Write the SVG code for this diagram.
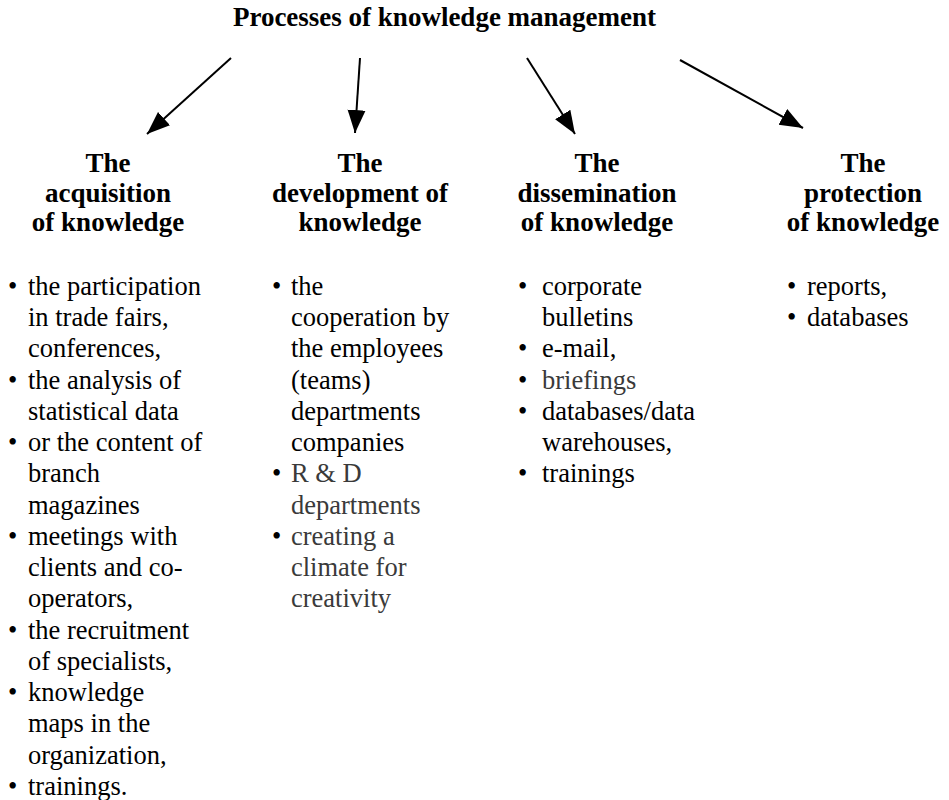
<svg xmlns="http://www.w3.org/2000/svg" width="949" height="800" viewBox="0 0 949 800">
<style>
text{font-family:"Liberation Serif","Times New Roman",serif;fill:#000}
.h{font-size:27px;font-weight:bold;text-anchor:middle}
.b{font-size:26.5px}
.g{fill:#3a3a3a}
.c line{stroke:#000;stroke-width:2}
</style>
<defs>
<marker id="ah" markerUnits="userSpaceOnUse" markerWidth="24" markerHeight="20" viewBox="0 0 24 20" refX="23" refY="10" orient="auto">
<path d="M0,1 L23,10 L0,19 Z" fill="#000"/>
</marker>
</defs>
<rect width="949" height="800" fill="#fff"/>
<g id="title"><text class="h" x="444.5" y="26">Processes of knowledge management</text></g>
<g class="c" id="connectors">
<line x1="231" y1="58" x2="147" y2="134" marker-end="url(#ah)"/>
<line x1="360" y1="58" x2="355" y2="133" marker-end="url(#ah)"/>
<line x1="527" y1="58" x2="575" y2="134" marker-end="url(#ah)"/>
<line x1="680" y1="60" x2="803" y2="128" marker-end="url(#ah)"/>
</g>
<g id="acquisition">
<text class="h" x="108" y="172">The</text>
<text class="h" x="108" y="202">acquisition</text>
<text class="h" x="108" y="231">of knowledge</text>
<g class="b">
<text x="8" y="295">•</text><text x="28" y="295">the participation</text>
<text x="28" y="326">in trade fairs,</text>
<text x="28" y="357">conferences,</text>
<text x="8" y="389">•</text><text x="28" y="389">the analysis of</text>
<text x="28" y="420">statistical data</text>
<text x="8" y="451">•</text><text x="28" y="451">or the content of</text>
<text x="28" y="482">branch</text>
<text x="28" y="514">magazines</text>
<text x="8" y="545">•</text><text x="28" y="545">meetings with</text>
<text x="28" y="576">clients and co-</text>
<text x="28" y="607">operators,</text>
<text x="8" y="639">•</text><text x="28" y="639">the recruitment</text>
<text x="28" y="670">of specialists,</text>
<text x="8" y="701">•</text><text x="28" y="701">knowledge</text>
<text x="28" y="732">maps in the</text>
<text x="28" y="764">organization,</text>
<text x="8" y="795">•</text><text x="28" y="795">trainings.</text>
</g>
</g>
<g id="development">
<text class="h" x="360" y="172">The</text>
<text class="h" x="360" y="202">development of</text>
<text class="h" x="360" y="231">knowledge</text>
<g class="b">
<text x="272" y="295">•</text><text x="291" y="295">the</text>
<text x="291" y="326">cooperation by</text>
<text x="291" y="357">the employees</text>
<text x="291" y="389">(teams)</text>
<text x="291" y="420">departments</text>
<text x="291" y="451">companies</text>
<text x="272" y="482">•</text><text class="g" x="291" y="482">R &amp; D</text>
<text class="g" x="291" y="514">departments</text>
<text x="272" y="545">•</text><text class="g" x="291" y="545">creating a</text>
<text class="g" x="291" y="576">climate for</text>
<text class="g" x="291" y="607">creativity</text>
</g>
</g>
<g id="dissemination">
<text class="h" x="597" y="172">The</text>
<text class="h" x="597" y="202">dissemination</text>
<text class="h" x="597" y="231">of knowledge</text>
<g class="b">
<text x="518" y="295">•</text><text x="542" y="295">corporate</text>
<text x="542" y="326">bulletins</text>
<text x="518" y="357">•</text><text x="542" y="357">e-mail,</text>
<text x="518" y="389">•</text><text class="g" x="542" y="389">briefings</text>
<text x="518" y="420">•</text><text x="542" y="420">databases/data</text>
<text x="542" y="451">warehouses,</text>
<text x="518" y="482">•</text><text x="542" y="482">trainings</text>
</g>
</g>
<g id="protection">
<text class="h" x="863" y="172">The</text>
<text class="h" x="863" y="202">protection</text>
<text class="h" x="863" y="231">of knowledge</text>
<g class="b">
<text x="787" y="295">•</text><text x="807" y="295">reports,</text>
<text x="787" y="326">•</text><text x="807" y="326">databases</text>
</g>
</g>
</svg>
